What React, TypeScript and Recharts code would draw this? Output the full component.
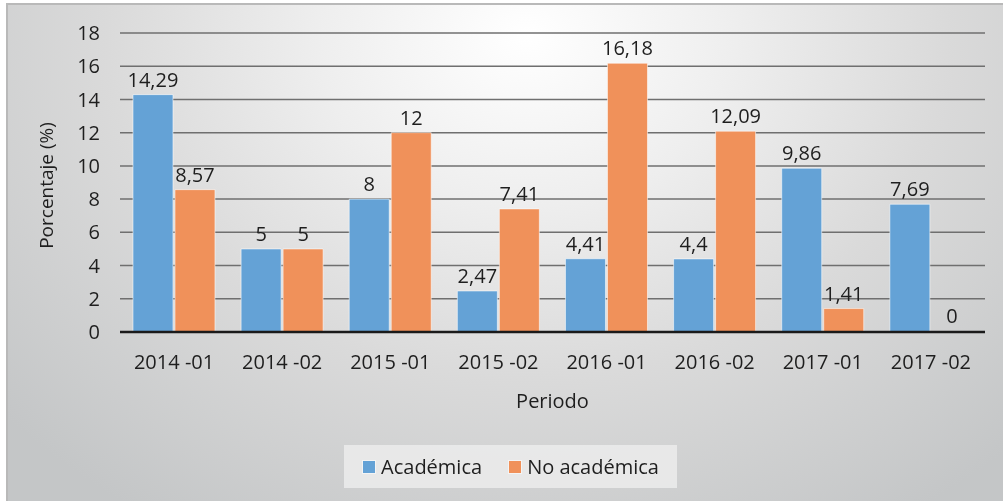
import { Bar, BarChart, CartesianGrid, Cell, LabelList, Legend, XAxis, YAxis } from "recharts";

// Periodos y porcentajes
const periodos = ["2014 -01", "2014 -02", "2015 -01", "2015 -02", "2016 -01", "2016 -02", "2017 -01", "2017 -02"];
const academica = [14.29, 5, 8, 2.47, 4.41, 4.4, 9.86, 7.69];
const noAcademica = [8.57, 5, 12, 7.41, 16.18, 12.09, 1.41, 0];
const yTicks = [0, 2, 4, 6, 8, 10, 12, 14, 16, 18];

const data = periodos.map((periodo, i) => ({
	periodo,
	academica: academica[i],
	noAcademica: noAcademica[i],
}));

const FONT = "'Open Sans', 'Noto Sans', sans-serif";
const TEXT = "#1e1e1e";
const AZUL = "#64a2d6";
const NARANJA = "#f0915a";

// etiqueta encima de cada barra, con coma decimal (tambien para el valor 0)
const etiqueta = (p: any) => {
	if (p.value === undefined || p.value === null) return null;
	return (
		<text x={p.x + p.width / 2} y={p.y - 8} textAnchor="middle" fill={TEXT} fontSize={20}>
			{String(p.value).replace(".", ",")}
		</text>
	);
};

// las barras de valor 0 necesitan un rectangulo minimo para que salga su etiqueta
const minCero = (v: any) => (v === 0 ? 1 : 0);

const LegendBox = () => (
	<div
		style={{
			width: 333,
			height: 43,
			background: "rgba(238,238,238,0.8)",
			display: "flex",
			alignItems: "center",
			justifyContent: "center",
			fontFamily: FONT,
			fontSize: 20,
			color: TEXT,
		}}
	>
		<span style={{ display: "flex", alignItems: "center", marginRight: 26 }}>
			<span style={{ width: 12, height: 12, background: AZUL, border: "1px solid #f4f4f4", marginRight: 5 }} />
			Académica
		</span>
		<span style={{ display: "flex", alignItems: "center" }}>
			<span style={{ width: 12, height: 12, background: NARANJA, border: "1px solid #f4f4f4", marginRight: 5 }} />
			No académica
		</span>
	</div>
);

export default function App() {
	return (
		<div
			style={{
				position: "fixed",
				left: 6,
				top: 3,
				width: 997,
				height: 498,
				borderTop: "2px solid #b9b9b9",
				borderLeft: "2px solid #b9b9b9",
				background:
					"radial-gradient(ellipse 70% 115% at 52% 6%, #ffffff 0%, #eeeeee 30%, #dadada 60%, #c4c6c7 100%)",
			}}
		>
			<BarChart
				width={997}
				height={498}
				data={data}
				margin={{ top: 28, right: 20, left: 0, bottom: 28 }}
				barCategoryGap="12%"
				barGap={2}
				style={{ fontFamily: FONT }}
			>
				<CartesianGrid vertical={false} stroke="#6f6f6f" strokeWidth={1.5} />
				<XAxis
					dataKey="periodo"
					height={100}
					tickSize={0}
					tickMargin={23}
					axisLine={{ stroke: "#1a1a1a", strokeWidth: 2.5 }}
					tick={{ fill: TEXT, fontSize: 20 }}
					label={(props: any) => {
						const vb = props.viewBox;
						return (
							<text x={vb.x + vb.width / 2} y={vb.y + 76} textAnchor="middle" fill={TEXT} fontSize={20}>
								Periodo
							</text>
						);
					}}
				/>
				<YAxis
					width={112}
					domain={[0, 18]}
					ticks={yTicks}
					tickSize={0}
					tickMargin={20}
					axisLine={false}
					tick={{ fill: TEXT, fontSize: 20 }}
					label={(props: any) => {
						const vb = props.viewBox;
						const cy = vb.y + vb.height / 2 + 3;
						return (
							<text
								x={38}
								y={cy}
								transform={`rotate(-90, 38, ${cy})`}
								textAnchor="middle"
								dominantBaseline="central"
								fill={TEXT}
								fontSize={19}
							>
								Porcentaje (%)
							</text>
						);
					}}
				/>
				<Legend
					content={() => <LegendBox />}
					wrapperStyle={{ left: 336, top: 440, width: 333, height: 43, bottom: "auto" }}
				/>
				<Bar dataKey="academica" name="Académica" fill={AZUL} stroke="#ffffff" strokeOpacity={0.55} strokeWidth={1} minPointSize={minCero} isAnimationActive={false}>
					{academica.map((v, i) => (
						<Cell key={i} fill={v === 0 ? "transparent" : AZUL} stroke={v === 0 ? "none" : "#ffffff"} />
					))}
					<LabelList dataKey="academica" content={etiqueta} />
				</Bar>
				<Bar dataKey="noAcademica" name="No académica" fill={NARANJA} stroke="#ffffff" strokeOpacity={0.55} strokeWidth={1} minPointSize={minCero} isAnimationActive={false}>
					{noAcademica.map((v, i) => (
						<Cell key={i} fill={v === 0 ? "transparent" : NARANJA} stroke={v === 0 ? "none" : "#ffffff"} />
					))}
					<LabelList dataKey="noAcademica" content={etiqueta} />
				</Bar>
			</BarChart>
		</div>
	);
}
